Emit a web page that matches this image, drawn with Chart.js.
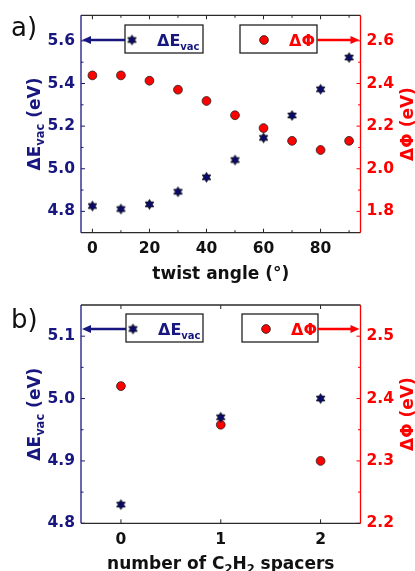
<!DOCTYPE html>
<html>
<head>
<meta charset="utf-8">
<script src="https://cdn.jsdelivr.net/npm/chart.js@4.4.1/dist/chart.umd.min.js"></script>
<style>
  html, body { margin: 0; padding: 0; background: #fff; }
  #wrap { position: relative; width: 415px; height: 571px; overflow: hidden; }
  canvas { position: absolute; left: 0; }
</style>
</head>
<body>
<div id="wrap">
  <canvas id="chartA" width="415" height="285" style="top:0"></canvas>
  <canvas id="chartB" width="415" height="286" style="top:285px"></canvas>
</div>
<script>
// panel a) twist angle
const twistAngles = [0, 10, 20, 30, 40, 50, 60, 70, 80, 90];
const evacTwist = [4.825, 4.811, 4.833, 4.892, 4.960, 5.041, 5.145, 5.250, 5.373, 5.522];
const phiTwist = [2.438, 2.438, 2.413, 2.371, 2.318, 2.251, 2.191, 2.131, 2.088, 2.131];
const twistTicks = [0, 20, 40, 60, 80];
const twistMinor = [10, 30, 50, 70, 90];
const evacTicksA = [4.8, 5.0, 5.2, 5.4, 5.6];
const evacMinorA = [4.9, 5.1, 5.3, 5.5];
const phiTicksA = [1.8, 2.0, 2.2, 2.4, 2.6];
const phiMinorA = [1.9, 2.1, 2.3, 2.5];

// panel b) number of C2H2 spacers
const spacers = [0, 1, 2];
const evacSpacers = [4.83, 4.97, 5.00];
const phiSpacers = [2.42, 2.358, 2.30];
const spacerTicks = [0, 1, 2];
const evacTicksB = [4.8, 4.9, 5.0, 5.1];
const evacMinorB = [4.85, 4.95, 5.05];
const phiTicksB = [2.2, 2.3, 2.4, 2.5];
const phiMinorB = [2.25, 2.35, 2.45];

const NAVY = '#17177f';
const STAR_FILL = '#0a0a6a';
const RED = '#ff0000';
const FONT = '"DejaVu Sans", sans-serif';

// six pointed star marker
function makeStar(R) {
  const c = document.createElement('canvas');
  const s = Math.ceil(R * 2 + 3);
  c.width = s; c.height = s;
  const g = c.getContext('2d');
  g.translate(s / 2, s / 2);
  g.beginPath();
  for (let i = 0; i < 12; i++) {
    const ang = -Math.PI / 2 + i * Math.PI / 6;
    const r = i % 2 === 0 ? R : R / Math.sqrt(3);
    const px = r * Math.cos(ang), py = r * Math.sin(ang);
    if (i === 0) g.moveTo(px, py); else g.lineTo(px, py);
  }
  g.closePath();
  g.fillStyle = STAR_FILL;
  g.fill();
  g.lineWidth = 0.8;
  g.strokeStyle = '#111';
  g.stroke();
  return c;
}
const starImg = makeStar(4.9);

function drawParts(ctx, parts, x, y, rot, color, align) {
  ctx.save();
  ctx.translate(x, y);
  ctx.rotate(rot);
  ctx.fillStyle = color;
  ctx.textBaseline = 'alphabetic';
  let total = 0;
  parts.forEach(p => {
    ctx.font = 'bold ' + p.size + 'px ' + FONT;
    p.w = ctx.measureText(p.text).width;
    total += p.w;
  });
  let cx = align === 'left' ? 0 : -total / 2;
  parts.forEach(p => {
    ctx.font = 'bold ' + p.size + 'px ' + FONT;
    ctx.fillText(p.text, cx, p.dy || 0);
    cx += p.w;
  });
  ctx.restore();
}

function line(ctx, x1, y1, x2, y2) {
  ctx.beginPath(); ctx.moveTo(x1, y1); ctx.lineTo(x2, y2); ctx.stroke();
}

function arrow(ctx, x1, x2, y, color) {
  ctx.save();
  ctx.strokeStyle = color; ctx.fillStyle = color; ctx.lineWidth = 2.4;
  const dir = Math.sign(x2 - x1);
  line(ctx, x1, y, x2 - dir * 7, y);
  ctx.beginPath();
  ctx.moveTo(x2, y);
  ctx.lineTo(x2 - dir * 9, y - 4);
  ctx.lineTo(x2 - dir * 9, y + 4);
  ctx.closePath();
  ctx.fill();
  ctx.restore();
}

const decorPlugin = {
  id: 'decor',
  afterDatasetsDraw(chart, args, o) {
    const { ctx, chartArea: a, scales } = chart;
    ctx.save();
    // inward ticks
    ctx.lineWidth = 1;
    const tickSet = (vals, len, scale, side, color) => {
      ctx.strokeStyle = color;
      vals.forEach(v => {
        const p = scale.getPixelForValue(v);
        if (side === 'x') {
          line(ctx, p, a.bottom, p, a.bottom - len);
          line(ctx, p, a.top, p, a.top + len);
        } else if (side === 'l') {
          line(ctx, a.left, p, a.left + len, p);
        } else {
          line(ctx, a.right, p, a.right - len, p);
        }
      });
    };
    tickSet(o.xMajor, 4, scales.x, 'x', '#222');
    tickSet(o.xMinor, 2.5, scales.x, 'x', '#222');
    tickSet(o.lMajor, 4, scales.yL, 'l', NAVY);
    tickSet(o.lMinor, 2.5, scales.yL, 'l', NAVY);
    tickSet(o.rMajor, 4, scales.yR, 'r', RED);
    tickSet(o.rMinor, 2.5, scales.yR, 'r', RED);

    // frame
    ctx.lineWidth = 1.3;
    ctx.strokeStyle = '#2a2a2a';
    line(ctx, a.left, a.top, a.right, a.top);
    line(ctx, a.left, a.bottom, a.right, a.bottom);
    ctx.strokeStyle = NAVY;
    line(ctx, a.left, a.top, a.left, a.bottom);
    ctx.strokeStyle = RED;
    line(ctx, a.right, a.top, a.right, a.bottom);

    // legend boxes with arrows
    const L = o.legend, ay = L.y;
    ctx.lineWidth = 1.3;
    ctx.strokeStyle = '#222';
    ctx.fillStyle = '#fff';
    [L.box1, L.box2].forEach(b => {
      ctx.fillRect(b[0], ay - 15, b[1] - b[0], 28);
      ctx.strokeRect(b[0], ay - 15, b[1] - b[0], 28);
    });
    arrow(ctx, L.box1[0], a.left + 1, ay, NAVY);
    arrow(ctx, L.box2[1], a.right - 1, ay, RED);
    ctx.drawImage(starImg, L.box1[0] + 7 - starImg.width / 2, ay - starImg.height / 2);
    ctx.beginPath();
    ctx.arc(L.box2[0] + 24, ay, 4.4, 0, Math.PI * 2);
    ctx.fillStyle = RED; ctx.fill();
    ctx.lineWidth = 0.8; ctx.strokeStyle = '#222'; ctx.stroke();
    drawParts(ctx, [{ text: 'ΔE', size: 16 }, { text: 'vac', size: 10, dy: 3.5 }],
      L.box1[0] + 32, ay + 6, 0, NAVY, 'left');
    drawParts(ctx, [{ text: 'ΔΦ', size: 16 }], L.box2[0] + 49, ay + 6, 0, RED, 'left');

    // axis titles
    const cy = (a.top + a.bottom) / 2;
    drawParts(ctx, [{ text: 'ΔE', size: 17 }, { text: 'vac', size: 11.5, dy: 4 }, { text: ' (eV)', size: 17 }],
      40, cy, -Math.PI / 2, NAVY);
    drawParts(ctx, [{ text: 'ΔΦ (eV)', size: 17 }], 413, cy, -Math.PI / 2, RED);
    drawParts(ctx, o.xTitle, (a.left + a.right) / 2, o.xTitleY, 0, '#111');

    // panel letter
    ctx.fillStyle = '#111';
    ctx.font = '26px ' + FONT;
    ctx.textBaseline = 'alphabetic';
    ctx.fillText(o.letter, 11, o.letterY);
    ctx.restore();
  }
};

function fixed(vals) {
  return s => { s.ticks = vals.map(v => ({ value: v })); };
}

function makePanel(id, cfg) {
  const ctx = document.getElementById(id).getContext('2d');
  const tickFont = { family: FONT, size: 15.5, weight: 'bold' };
  return new Chart(ctx, {
    type: 'scatter',
    data: {
      datasets: [{
        label: 'ΔEvac',
        data: cfg.xs.map((x, i) => ({ x: x, y: cfg.evac[i] })),
        yAxisID: 'yL',
        pointStyle: starImg,
        pointRadius: 5
      }, {
        label: 'ΔΦ',
        data: cfg.xs.map((x, i) => ({ x: x, y: cfg.phi[i] })),
        yAxisID: 'yR',
        pointStyle: 'circle',
        pointRadius: 4.4,
        backgroundColor: RED,
        borderColor: '#222',
        borderWidth: 0.8
      }]
    },
    options: {
      responsive: false,
      animation: false,
      devicePixelRatio: 1,
      layout: { padding: { top: cfg.top, left: 0, right: 0, bottom: 0 } },
      plugins: {
        legend: { display: false },
        tooltip: { enabled: false },
        decor: cfg.decor
      },
      scales: {
        x: {
          type: 'linear', position: 'bottom',
          min: cfg.xRange[0], max: cfg.xRange[1],
          afterBuildTicks: fixed(cfg.decor.xMajor),
          afterFit: s => { s.height = cfg.xHeight; },
          grid: { display: false, drawTicks: false },
          border: { display: false },
          ticks: { color: '#111', font: tickFont, padding: 7, maxRotation: 0, callback: v => String(v) }
        },
        yL: {
          type: 'linear', position: 'left',
          min: cfg.lRange[0], max: cfg.lRange[1],
          afterBuildTicks: fixed(cfg.decor.lMajor),
          afterFit: s => { s.width = 81; },
          grid: { display: false, drawTicks: false },
          border: { display: false },
          ticks: { color: NAVY, font: tickFont, padding: 6, callback: v => v.toFixed(1) }
        },
        yR: {
          type: 'linear', position: 'right',
          min: cfg.rRange[0], max: cfg.rRange[1],
          afterBuildTicks: fixed(cfg.decor.rMajor),
          afterFit: s => { s.width = 54.5; },
          grid: { display: false, drawTicks: false },
          border: { display: false },
          ticks: { color: RED, font: tickFont, padding: 6, callback: v => v.toFixed(1) }
        }
      }
    },
    plugins: [decorPlugin]
  });
}

makePanel('chartA', {
  xs: twistAngles, evac: evacTwist, phi: phiTwist,
  top: 14, xHeight: 52.3,
  xRange: [-4, 94], lRange: [4.7, 5.72], rRange: [1.7, 2.72],
  decor: {
    xMajor: twistTicks, xMinor: twistMinor,
    lMajor: evacTicksA, lMinor: evacMinorA,
    rMajor: phiTicksA, rMinor: phiMinorA,
    legend: { y: 40, box1: [125, 203], box2: [240, 317] },
    xTitle: [{ text: 'twist angle (°)', size: 17 }],
    xTitleY: 279,
    letter: 'a)', letterY: 36
  }
});

makePanel('chartB', {
  xs: spacers, evac: evacSpacers, phi: phiSpacers,
  top: 20, xHeight: 47.7,
  xRange: [-0.4, 2.4], lRange: [4.8, 5.15], rRange: [2.2, 2.55],
  decor: {
    xMajor: spacerTicks, xMinor: [],
    lMajor: evacTicksB, lMinor: evacMinorB,
    rMajor: phiTicksB, rMinor: phiMinorB,
    legend: { y: 44, box1: [126, 203], box2: [242, 318] },
    xTitle: [{ text: 'number of C', size: 17 }, { text: '2', size: 11.5, dy: 4 },
             { text: 'H', size: 17 }, { text: '2', size: 11.5, dy: 4 }, { text: ' spacers', size: 17 }],
    xTitleY: 284,
    letter: 'b)', letterY: 43
  }
});
</script>
</body>
</html>
